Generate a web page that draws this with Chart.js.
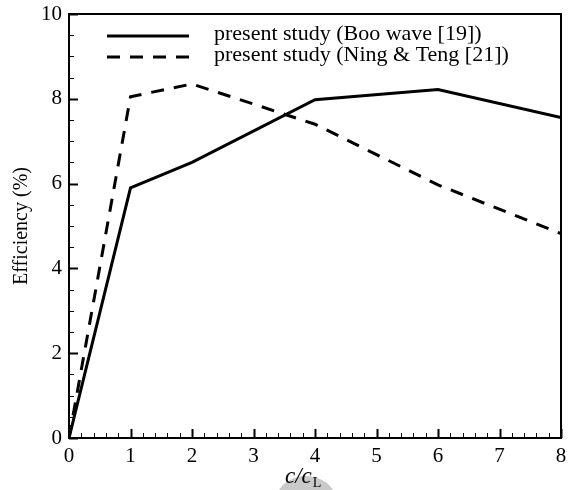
<!DOCTYPE html>
<html>
<head>
<meta charset="utf-8">
<script src="https://cdn.jsdelivr.net/npm/chart.js@4"></script>
<style>
    html, body { margin: 0; padding: 0; background: #fff; }
    #wrap { width: 569px; height: 490px; position: relative; }
</style>
</head>
<body>
<div id="wrap"><canvas id="effChart"></canvas></div>
<script>
const ratios = [0, 1, 2, 4, 6, 8];
const booWave = [0, 5.9, 6.5, 7.98, 8.22, 7.56];
const ningTeng = [0, 8.05, 8.35, 7.4, 5.97, 4.82];
const seriesLabels = ['present study (Boo wave [19])', 'present study (Ning & Teng [21])'];
const xTicks = [0, 1, 2, 3, 4, 5, 6, 7, 8];
const yTicks = [0, 2, 4, 6, 8, 10];

const SERIF = '"Liberation Serif", "DejaVu Serif", serif';

// inward major/minor ticks, frame, legend and axis titles
const decorPlugin = {
    id: 'decor',
    afterDraw(chart) {
        const ctx = chart.ctx;
        const area = chart.chartArea;
        const xs = chart.scales.x;
        const ys = chart.scales.y;
        ctx.save();
        ctx.strokeStyle = '#000';

        // grey smudge under x title
        ctx.fillStyle = '#c9c9c9';
        ctx.beginPath();
        ctx.ellipse(306, 501, 30, 25, 0, 0, Math.PI * 2);
        ctx.fill();

        for (let v = 0; v <= 8.001; v += 0.2) {
            const px = Math.round(xs.getPixelForValue(v)) + 0.5;
            const major = Math.abs(v - Math.round(v)) < 1e-6;
            ctx.lineWidth = major ? 2 : 1;
            ctx.beginPath();
            ctx.moveTo(px, area.bottom);
            ctx.lineTo(px, area.bottom - (major ? 9 : 5));
            ctx.stroke();
        }
        for (let v = 0; v <= 10.001; v += 0.5) {
            const py = Math.round(ys.getPixelForValue(v)) + 0.5;
            const major = Math.abs(v / 2 - Math.round(v / 2)) < 1e-6;
            ctx.lineWidth = major ? 2 : 1;
            ctx.beginPath();
            ctx.moveTo(area.left, py);
            ctx.lineTo(area.left + (major ? 9 : 5), py);
            ctx.stroke();
        }

        // frame
        ctx.lineWidth = 2;
        ctx.strokeRect(area.left, area.top, area.right - area.left, area.bottom - area.top);

        // legend
        ctx.font = '22px ' + SERIF;
        ctx.fillStyle = '#000';
        ctx.textBaseline = 'middle';
        chart.data.datasets.forEach((ds, i) => {
            const y = 36 + i * 21;
            ctx.lineWidth = 3;
            ctx.setLineDash(ds.borderDash || []);
            ctx.beginPath();
            ctx.moveTo(107, y);
            ctx.lineTo(189, y);
            ctx.stroke();
            ctx.setLineDash([]);
            ctx.fillText(ds.label, 214, y - 2);
        });

        // y title
        ctx.save();
        ctx.translate(22, 226);
        ctx.rotate(-Math.PI / 2);
        ctx.textAlign = 'center';
        ctx.font = '20px ' + SERIF;
        ctx.fillText('Efficiency (%)', 0, 0);
        ctx.restore();

        // x title c/c_L
        ctx.textAlign = 'left';
        ctx.textBaseline = 'alphabetic';
        ctx.font = 'italic 23px ' + SERIF;
        const main = 'c/c';
        const w = ctx.measureText(main).width;
        ctx.fillText(main, 285, 483);
        ctx.font = '14px ' + SERIF;
        ctx.fillText('L', 285 + w + 1, 487);
        ctx.restore();
    }
};

new Chart(document.getElementById('effChart'), {
    type: 'line',
    data: {
        datasets: [
            {
                label: seriesLabels[0],
                data: ratios.map((r, i) => ({ x: r, y: booWave[i] })),
                borderColor: '#000',
                borderWidth: 3,
                pointRadius: 0,
                tension: 0,
                fill: false
            },
            {
                label: seriesLabels[1],
                data: ratios.map((r, i) => ({ x: r, y: ningTeng[i] })),
                borderColor: '#000',
                borderWidth: 3,
                borderDash: [13, 10],
                pointRadius: 0,
                tension: 0,
                fill: false
            }
        ]
    },
    options: {
        responsive: true,
        maintainAspectRatio: false,
        animation: false,
        layout: {
            padding: { left: 0, top: 14, right: 8, bottom: 0 }
        },
        scales: {
            x: {
                type: 'linear',
                min: 0,
                max: 8,
                afterBuildTicks: scale => { scale.ticks = xTicks.map(v => ({ value: v })); },
                afterFit: scale => {
                    scale.height = 52;
                    scale.paddingLeft = 0;
                    scale.paddingRight = 0;
                },
                grid: { display: false, drawTicks: false },
                border: { display: false },
                ticks: {
                    color: '#000',
                    padding: 6,
                    maxRotation: 0,
                    font: { family: SERIF, size: 21 }
                }
            },
            y: {
                min: 0,
                max: 10,
                afterBuildTicks: scale => { scale.ticks = yTicks.map(v => ({ value: v })); },
                afterFit: scale => {
                    scale.width = 69;
                    scale.paddingTop = 0;
                    scale.paddingBottom = 0;
                },
                grid: { display: false, drawTicks: false },
                border: { display: false },
                ticks: {
                    color: '#000',
                    padding: 7,
                    font: { family: SERIF, size: 21 }
                }
            }
        },
        plugins: {
            legend: { display: false },
            tooltip: { enabled: false }
        }
    },
    plugins: [decorPlugin]
});
</script>
</body>
</html>
